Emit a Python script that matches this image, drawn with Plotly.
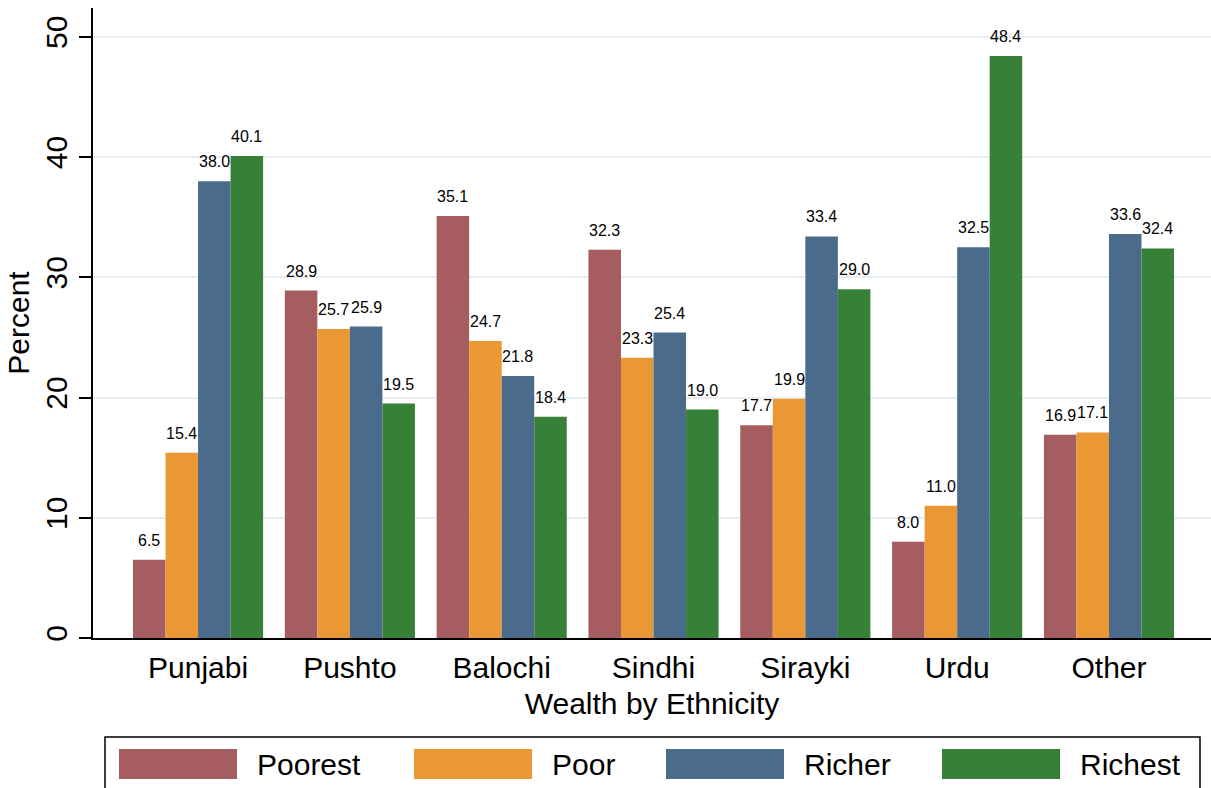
import plotly.graph_objects as go

categories = ["Punjabi", "Pushto", "Balochi", "Sindhi", "Sirayki", "Urdu", "Other"]
series_names = ["Poorest", "Poor", "Richer", "Richest"]
poorest = [6.5, 28.9, 35.1, 32.3, 17.7, 8.0, 16.9]
poor = [15.4, 25.7, 24.7, 23.3, 19.9, 11.0, 17.1]
richer = [38.0, 25.9, 21.8, 25.4, 33.4, 32.5, 33.6]
richest = [40.1, 19.5, 18.4, 19.0, 29.0, 48.4, 32.4]
y_ticks = [0, 10, 20, 30, 40, 50]

series_values = [poorest, poor, richer, richest]
colors = ["#a55d60", "#ea9834", "#4a6b8c", "#378037"]

FONT = "Liberation Sans, Arial, sans-serif"
BIG = 30
W, H = 1211, 788
ML, MR, MT, MB = 93, 0, 8, 150
x_range = [-0.692, 6.672]
bargap = 0.143
px_per_unit = (W - ML - MR) / (x_range[1] - x_range[0])
bar_px = (1 - bargap) / 4 * px_per_unit
PW, PH = W - ML - MR, H - MT - MB


def px_x(px):
    return (px - ML) / PW


def px_y(py):
    return (H - MB - py) / PH


fig = go.Figure()
annotations = []
for i, (name, vals, col) in enumerate(zip(series_names, series_values, colors)):
    fig.add_trace(go.Bar(
        name=name, x=categories, y=vals,
        marker=dict(color=col, line=dict(width=0)),
        showlegend=False,
    ))
    for c, v in zip(categories, vals):
        annotations.append(dict(
            x=c, y=v, xref="x", yref="y", text=f"{v:.1f}",
            showarrow=False, yanchor="bottom", xanchor="center",
            xshift=(i - 1.5) * bar_px, yshift=9,
            font=dict(family=FONT, size=16, color="#000"),
        ))

# custom legend
legend_swatch_x = [119, 414, 666, 942]
for name, col, sx in zip(series_names, colors, legend_swatch_x):
    fig.add_shape(type="rect", xref="paper", yref="paper",
                  x0=px_x(sx), x1=px_x(sx + 118),
                  y0=px_y(779), y1=px_y(749),
                  fillcolor=col, line=dict(width=0), layer="above")
    annotations.append(dict(
        xref="paper", yref="paper",
        x=px_x(sx + 136), y=px_y(764),
        text=name, showarrow=False, xanchor="left", yanchor="middle",
        font=dict(family=FONT, size=BIG, color="#000"),
    ))
fig.add_shape(type="rect", xref="paper", yref="paper",
              x0=px_x(105), x1=px_x(1200),
              y0=px_y(810), y1=px_y(737),
              line=dict(color="#000", width=1.5), fillcolor="rgba(0,0,0,0)")

fig.update_layout(
    width=W, height=H,
    margin=dict(l=ML, r=MR, t=MT, b=MB),
    paper_bgcolor="white", plot_bgcolor="white",
    barmode="group", bargap=bargap, bargroupgap=0,
    font=dict(family=FONT, color="#000"),
    annotations=annotations,
    xaxis=dict(
        range=x_range, showline=True, linecolor="#000", linewidth=1.5,
        ticks="", showgrid=False, zeroline=False,
        tickfont=dict(size=BIG, family=FONT, color="#000"),
        ticklabelstandoff=2,
        title=dict(text="Wealth by Ethnicity", font=dict(size=BIG, family=FONT, color="#000"), standoff=10),
    ),
    yaxis=dict(
        range=[0, 52.4], tickvals=y_ticks, ticktext=[str(t) for t in y_ticks],
        tickangle=-90, showline=True, linecolor="#000", linewidth=1.5,
        ticks="outside", ticklen=12, tickwidth=1.5, tickcolor="#000",
        showgrid=True, gridcolor="#e6eef4", gridwidth=2, zeroline=False,
        tickfont=dict(size=BIG, family=FONT, color="#000"),
        title=dict(text="Percent", font=dict(size=BIG, family=FONT, color="#000"), standoff=2),
    ),
)

fig.write_html("out.html", config={"displayModeBar": False},
               post_script="document.body.style.margin='0px';")
